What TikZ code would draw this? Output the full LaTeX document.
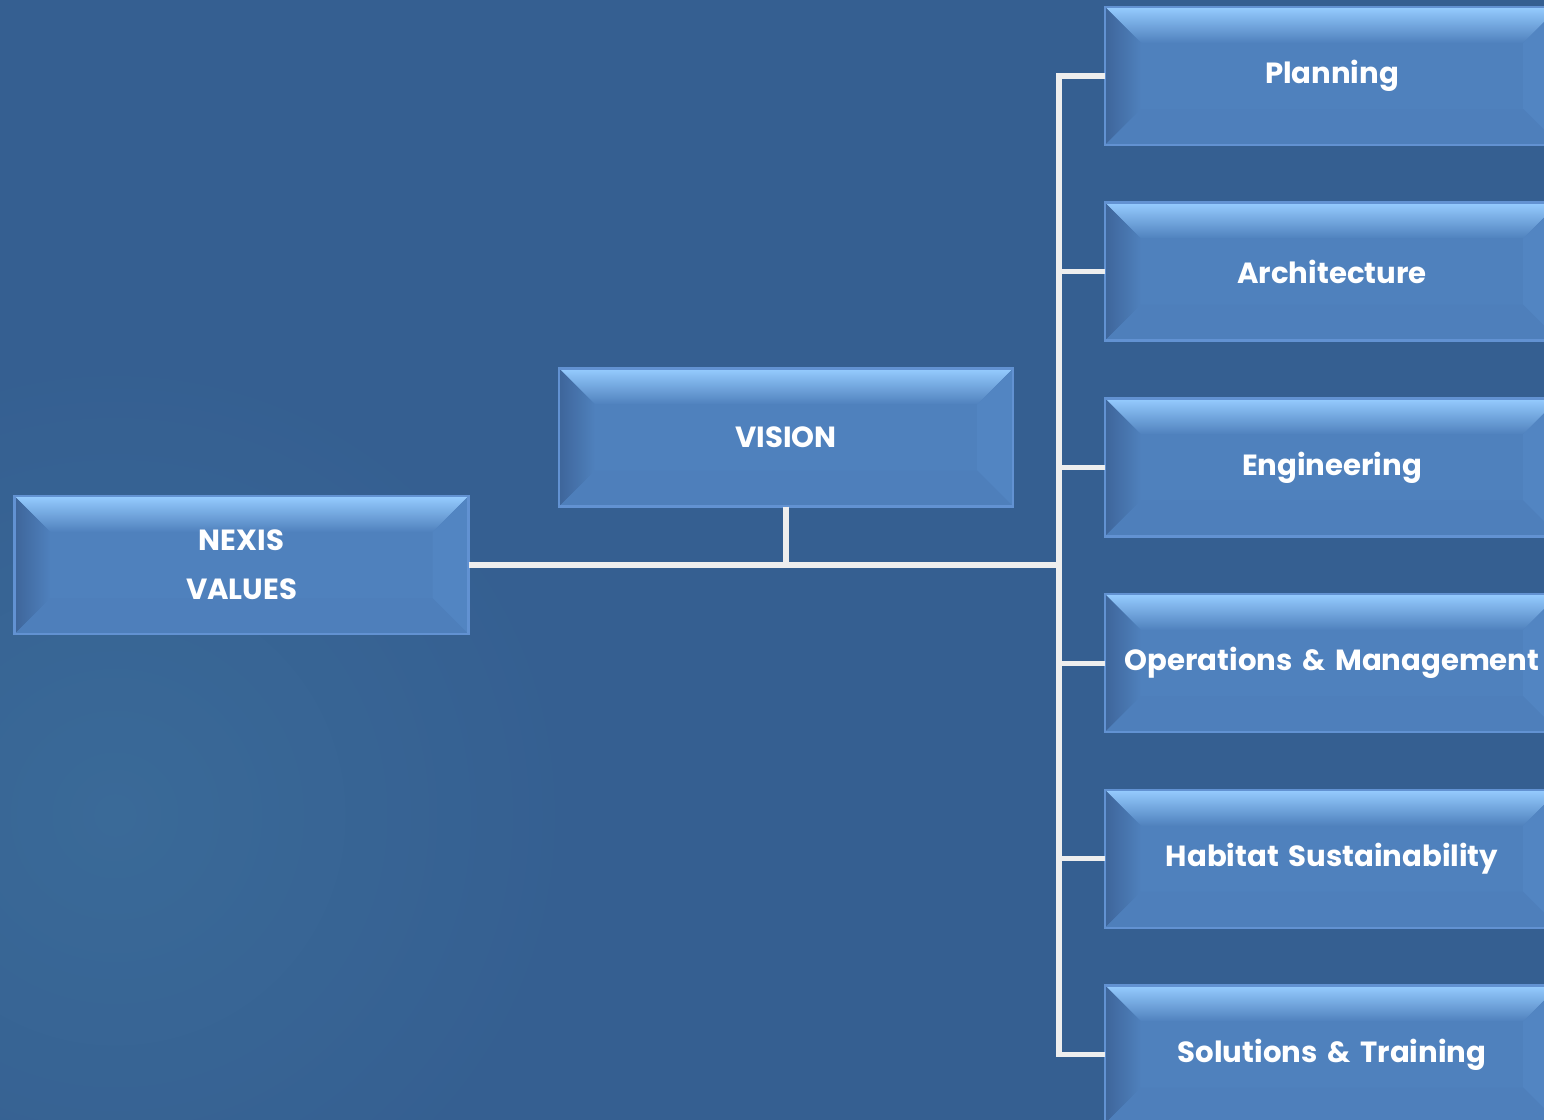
\documentclass[tikz,border=0pt]{standalone}
\usepackage{fontspec}
\setmainfont{Poppins}
\usetikzlibrary{positioning,calc}

\definecolor{bgblue}{RGB}{53,95,145}
\definecolor{bgglow}{RGB}{58,106,152}
\definecolor{boxblue}{RGB}{79,129,189}
\definecolor{bevtop}{RGB}{150,204,255}
\definecolor{bevleft}{RGB}{62,101,154}
\definecolor{bevright}{RGB}{82,133,194}
\definecolor{bevbot}{RGB}{78,127,187}
\definecolor{boxedge}{RGB}{98,146,210}
\definecolor{linkgray}{RGB}{238,238,238}

\def\bv{0.36cm}

\begin{document}
\begin{tikzpicture}[
    node distance=0.577cm,
    box/.style={rectangle, draw=boxedge, line width=0.7pt, fill=boxblue,
        outer sep=0pt, inner xsep=0pt, text width=4.54cm,
        minimum height=1.38cm, align=center,
        text=white, font=\fontsize{8.3}{14}\selectfont\bfseries,
        path picture={
            \coordinate (pa) at (path picture bounding box.north west);
            \coordinate (pb) at (path picture bounding box.north east);
            \coordinate (pc) at (path picture bounding box.south east);
            \coordinate (pd) at (path picture bounding box.south west);
            \shade[top color=bevtop, bottom color=boxblue]
                (pa) -- (pb) -- ($(pb)+(-\bv,-\bv)$) -- ($(pa)+(\bv,-\bv)$) -- cycle;
            \shade[left color=bevleft, right color=boxblue]
                (pa) -- ($(pa)+(\bv,-\bv)$) -- ($(pd)+(\bv,\bv)$) -- (pd) -- cycle;
            \fill[bevright] (pb) -- (pc) -- ($(pc)+(-\bv,\bv)$) -- ($(pb)+(-\bv,-\bv)$) -- cycle;
            \fill[bevbot] (pd) -- (pc) -- ($(pc)+(-\bv,\bv)$) -- ($(pd)+(\bv,\bv)$) -- cycle;
        }},
    link/.style={draw=linkgray, line width=1.45pt, line join=miter}
]

% Background
\useasboundingbox (0,0) rectangle (15.44,-11.20);
\fill[bgblue] (0,0) rectangle (15.44,-11.20);
\shade[inner color=bgglow, outer color=bgblue] (1.15,-8.15) circle (4.6cm);

% Left and middle boxes
\node[box] (nexis) at (2.415,-5.65) {NEXIS\\VALUES};
\node[box] (vision) at (7.86,-4.375) {VISION};

% Right column
\node[box] (planning) at (13.32,-0.76) {Planning};
\node[box, below=of planning] (architecture) {Architecture};
\node[box, below=of architecture] (engineering) {Engineering};
\node[box, below=of engineering] (operations) {Operations \& Management};
\node[box, below=of operations] (habitat) {Habitat Sustainability};
\node[box, below=of habitat] (solutions) {Solutions \& Training};

% Connectors
\coordinate (bus) at (10.59,-5.65);
\draw[link] (nexis.east) -- (bus);
\draw[link] (vision.south) -- (vision.south |- bus);
\draw[link] (planning.west) -- (planning.west -| bus)
    -- (solutions.west -| bus) -- (solutions.west);
\foreach \n in {architecture, engineering, operations, habitat}
    \draw[link] (\n.west) -- (\n.west -| bus);

\end{tikzpicture}
\end{document}
